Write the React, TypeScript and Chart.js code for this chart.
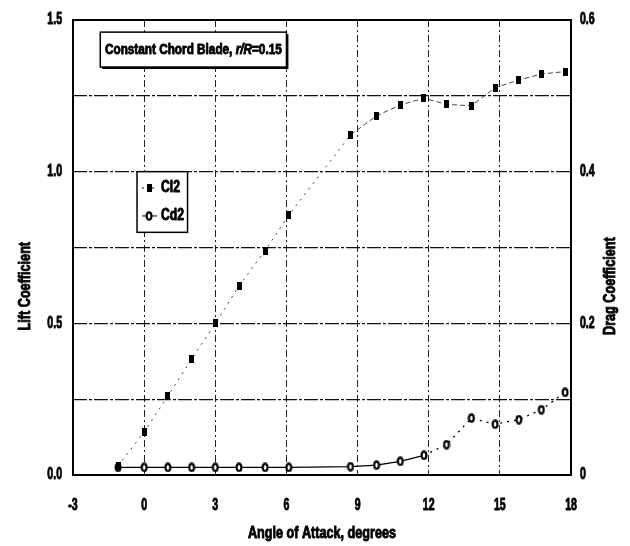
import { useEffect, useRef } from 'react';
import { Chart, registerables } from 'chart.js';

Chart.register(...registerables);

// Angle of attack (degrees) for each measured station
const angles = [-1.1, 0, 1, 2, 3, 4, 5.1, 6.1, 8.7, 9.8, 10.8, 11.8, 12.75, 13.8, 14.8, 15.8, 16.75, 17.75];
// Lift coefficient, left axis
const cl2 = [0.03, 0.142, 0.26, 0.382, 0.5, 0.623, 0.74, 0.857, 1.121, 1.184, 1.22, 1.242, 1.222, 1.217, 1.277, 1.302, 1.322, 1.33];
// Drag coefficient, right axis
const cd2 = [0.01, 0.01, 0.01, 0.01, 0.01, 0.01, 0.01, 0.01, 0.011, 0.013, 0.018, 0.026, 0.04, 0.075, 0.067, 0.073, 0.086, 0.109];

const xTicks = [-3, 0, 3, 6, 9, 12, 15, 18];
const liftGrid = [0, 0.25, 0.5, 0.75, 1, 1.25, 1.5];
const liftTicks = [0, 0.5, 1, 1.5];
const liftLabels = ['0.0', '0.5', '1.0', '1.5'];
const dragTicks = [0, 0.2, 0.4, 0.6];
const dragLabels = ['0', '0.2', '0.4', '0.6'];

const FAMILY = '"Liberation Sans", Arial, sans-serif';

// Draws heavy bold text squeezed horizontally, giving a narrow typeface look.
function narrowText(
  ctx: CanvasRenderingContext2D,
  text: string,
  x: number,
  y: number,
  size: number,
  squeeze: number,
  align: CanvasTextAlign,
  style = 'bold',
) {
  ctx.save();
  ctx.font = `${style} ${size}px ${FAMILY}`;
  ctx.textAlign = align;
  ctx.textBaseline = 'middle';
  ctx.fillStyle = '#000';
  ctx.strokeStyle = '#000';
  ctx.lineWidth = 0.9;
  ctx.lineJoin = 'round';
  ctx.translate(x, y);
  ctx.scale(squeeze, 1);
  ctx.fillText(text, 0, 0);
  ctx.strokeText(text, 0, 0);
  ctx.restore();
}

function makeSquare(): HTMLCanvasElement {
  const c = document.createElement('canvas');
  c.width = 5;
  c.height = 8;
  const g = c.getContext('2d')!;
  g.fillStyle = '#000';
  g.fillRect(0, 0, 5, 8);
  return c;
}

function makeRing(): HTMLCanvasElement {
  const c = document.createElement('canvas');
  c.width = 8;
  c.height = 10;
  const g = c.getContext('2d')!;
  g.beginPath();
  g.ellipse(4, 5, 2.4, 3.7, 0, 0, Math.PI * 2);
  g.fillStyle = '#fff';
  g.fill();
  g.lineWidth = 2.2;
  g.strokeStyle = '#000';
  g.stroke();
  return c;
}

function makeDecor(square: HTMLCanvasElement, ring: HTMLCanvasElement) {
  return {
    id: 'decor',
    beforeDraw(chart: any) {
      const { ctx, width, height } = chart;
      ctx.save();
      ctx.fillStyle = '#fff';
      ctx.fillRect(0, 0, width, height);
      ctx.restore();
    },
    afterDraw(chart: any) {
      const { ctx, chartArea: a, scales } = chart;
      const sx = scales.x;
      const sy = scales.y;
      const sy2 = scales.y2;
      ctx.save();

      // plot frame
      ctx.lineWidth = 2;
      ctx.strokeStyle = '#000';
      ctx.setLineDash([]);
      ctx.strokeRect(a.left, a.top, a.right - a.left, a.bottom - a.top);

      // tick labels
      xTicks.forEach((v) => {
        narrowText(ctx, String(v), sx.getPixelForValue(v), a.bottom + 31, 16, 0.66, 'center');
      });
      liftTicks.forEach((v, i) => {
        narrowText(ctx, liftLabels[i], a.left - 11, sy.getPixelForValue(v), 16, 0.66, 'right');
      });
      dragTicks.forEach((v, i) => {
        narrowText(ctx, dragLabels[i], a.right + 9, sy2.getPixelForValue(v), 16, 0.66, 'left');
      });

      // title box with drop shadow
      const tl = sx.getPixelForValue(-1.85);
      const tr = sx.getPixelForValue(6.0);
      const tt = sy.getPixelForValue(1.46);
      const tb = sy.getPixelForValue(1.345);
      ctx.fillStyle = '#000';
      ctx.fillRect(tl + 2, tt + 2, tr - tl, tb - tt);
      ctx.fillStyle = '#fff';
      ctx.fillRect(tl, tt, tr - tl, tb - tt);
      ctx.lineWidth = 1.5;
      ctx.strokeRect(tl, tt, tr - tl, tb - tt);

      const squeeze = 0.84;
      const parts: [string, string][] = [
        ['Constant Chord Blade, ', 'bold'],
        ['r/R', 'italic bold'],
        ['=0.15', 'bold'],
      ];
      let total = 0;
      const widths: number[] = [];
      for (const [t, w] of parts) {
        ctx.font = `${w} 14px ${FAMILY}`;
        const m = ctx.measureText(t).width * squeeze;
        widths.push(m);
        total += m;
      }
      let px = (tl + tr) / 2 - total / 2;
      const py = (tt + tb) / 2 + 1;
      parts.forEach(([t, w], i) => {
        narrowText(ctx, t, px, py, 14, squeeze, 'left', w);
        px += widths[i];
      });

      // legend box
      const ll = sx.getPixelForValue(-0.3);
      const lr = sx.getPixelForValue(1.83);
      const lt = sy.getPixelForValue(1.0);
      const lb = sy.getPixelForValue(0.8);
      ctx.fillStyle = '#fff';
      ctx.fillRect(ll, lt, lr - ll, lb - lt);
      ctx.lineWidth = 1.5;
      ctx.strokeStyle = '#000';
      ctx.strokeRect(ll, lt, lr - ll, lb - lt);
      const rows: [string, HTMLCanvasElement, number[]][] = [
        ['Cl2', square, [2, 3]],
        ['Cd2', ring, []],
      ];
      rows.forEach(([label, img, dash], i) => {
        const ry = lt + (lb - lt) * (0.27 + i * 0.46);
        ctx.lineWidth = 1;
        ctx.strokeStyle = '#000';
        ctx.setLineDash(dash);
        ctx.beginPath();
        ctx.moveTo(ll + 5, ry);
        ctx.lineTo(ll + 20, ry);
        ctx.stroke();
        ctx.setLineDash([]);
        ctx.drawImage(img, ll + 12 - img.width / 2, ry - img.height / 2);
        narrowText(ctx, label, ll + 24, ry, 16, 0.76, 'left');
      });

      // axis titles
      narrowText(ctx, 'Angle of Attack, degrees', (a.left + a.right) / 2, a.bottom + 59, 16, 0.79, 'center');
      const ty = a.top + (a.bottom - a.top) * 0.585;
      ctx.save();
      ctx.translate(a.left - 47, ty);
      ctx.rotate(-Math.PI / 2);
      narrowText(ctx, 'Lift Coefficient', 0, 0, 16, 0.79, 'center');
      ctx.restore();
      ctx.save();
      ctx.translate(a.right + 40, ty);
      ctx.rotate(-Math.PI / 2);
      narrowText(ctx, 'Drag Coefficient', 0, 0, 16, 0.79, 'center');
      ctx.restore();

      ctx.restore();
    },
  };
}

export default function App() {
  const ref = useRef<HTMLCanvasElement | null>(null);

  useEffect(() => {
    const canvas = ref.current;
    if (!canvas) return;
    const square = makeSquare();
    const ring = makeRing();

    const chart = new Chart(canvas, {
      type: 'scatter',
      data: {
        datasets: [
          {
            label: 'Cl2',
            data: angles.map((x, i) => ({ x, y: cl2[i] })),
            yAxisID: 'y',
            showLine: true,
            borderColor: '#444',
            borderWidth: 1,
            pointStyle: square,
            pointRadius: 4,
            segment: {
              borderDash: (c: any) => (c.p0.parsed.x < 7 ? [2, 5] : [5, 3]),
            },
          },
          {
            label: 'Cd2',
            data: angles.map((x, i) => ({ x, y: cd2[i] })),
            yAxisID: 'y2',
            showLine: true,
            borderColor: '#000',
            borderWidth: 1.3,
            pointStyle: ring,
            pointRadius: 4,
            segment: {
              borderDash: (c: any) => (c.p0.parsed.x < 11.5 ? [] : [2, 5]),
            },
          },
        ],
      },
      options: {
        responsive: false,
        animation: false,
        devicePixelRatio: 1,
        layout: { padding: { top: 20, left: 0, right: 0, bottom: 0 } },
        plugins: {
          legend: { display: false },
          tooltip: { enabled: false },
        },
        scales: {
          x: {
            type: 'linear',
            min: -3,
            max: 18,
            afterBuildTicks: (s: any) => {
              s.ticks = xTicks.map((v) => ({ value: v }));
            },
            afterFit: (s: any) => {
              s.height = 71;
            },
            ticks: { display: false },
            grid: { color: '#222', lineWidth: 1, drawTicks: false },
            border: { display: false, dash: [7, 3, 2, 3] },
          },
          y: {
            type: 'linear',
            position: 'left',
            min: 0,
            max: 1.5,
            afterBuildTicks: (s: any) => {
              s.ticks = liftGrid.map((v) => ({ value: v }));
            },
            afterFit: (s: any) => {
              s.width = 73;
            },
            ticks: { display: false },
            grid: { color: '#111', lineWidth: 1.3, drawTicks: false },
            border: { display: false, dash: [14, 2, 3, 2] },
          },
          y2: {
            type: 'linear',
            position: 'right',
            min: 0,
            max: 0.6,
            afterBuildTicks: (s: any) => {
              s.ticks = dragTicks.map((v) => ({ value: v }));
            },
            afterFit: (s: any) => {
              s.width = 59;
            },
            ticks: { display: false },
            grid: { display: false, drawTicks: false },
            border: { display: false },
          },
        },
      },
      plugins: [makeDecor(square, ring)],
    });

    return () => chart.destroy();
  }, []);

  return (
    <div style={{ position: 'absolute', left: 0, top: 0, width: 630, height: 546, background: '#fff' }}>
      <canvas ref={ref} width={630} height={546} style={{ display: 'block' }} />
    </div>
  );
}
